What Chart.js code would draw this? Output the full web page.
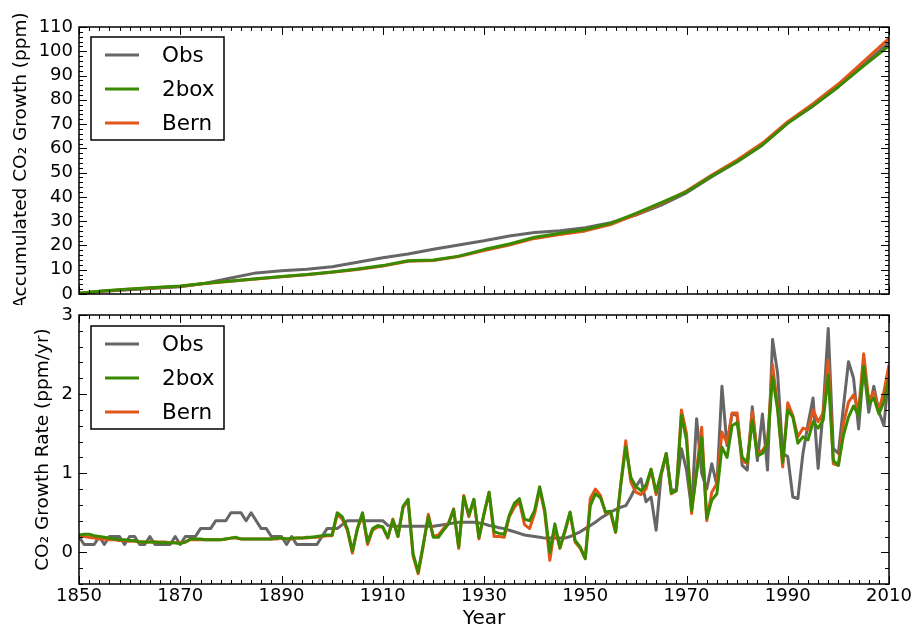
<!DOCTYPE html>
<html>
<head>
<meta charset="utf-8">
<script src="https://cdn.jsdelivr.net/npm/chart.js@4.4.1/dist/chart.umd.min.js"></script>
<style>
  html, body { margin: 0; padding: 0; background: #fff; overflow: hidden; }
  #wrap { position: relative; width: 912px; height: 628px; }
  canvas { position: absolute; left: 0; }
</style>
</head>
<body>
<div id="wrap">
  <canvas id="top" width="912" height="305" style="top:0"></canvas>
  <canvas id="bot" width="912" height="323" style="top:305px"></canvas>
</div>
<script>
// ---------- data ----------
const years = [
  1850,1851,1852,1853,1854,1855,1856,1857,1858,1859,
  1860,1861,1862,1863,1864,1865,1866,1867,1868,1869,
  1870,1871,1872,1873,1874,1875,1876,1877,1878,1879,
  1880,1881,1882,1883,1884,1885,1886,1887,1888,1889,
  1890,1891,1892,1893,1894,1895,1896,1897,1898,1899,
  1900,1901,1902,1903,1904,1905,1906,1907,1908,1909,
  1910,1911,1912,1913,1914,1915,1916,1917,1918,1919,
  1920,1921,1922,1923,1924,1925,1926,1927,1928,1929,
  1930,1931,1932,1933,1934,1935,1936,1937,1938,1939,
  1940,1941,1942,1943,1944,1945,1946,1947,1948,1949,
  1950,1951,1952,1953,1954,1955,1956,1957,1958,1959,
  1960,1961,1962,1963,1964,1965,1966,1967,1968,1969,
  1970,1971,1972,1973,1974,1975,1976,1977,1978,1979,
  1980,1981,1982,1983,1984,1985,1986,1987,1988,1989,
  1990,1991,1992,1993,1994,1995,1996,1997,1998,1999,
  2000,2001,2002,2003,2004,2005,2006,2007,2008,2009,
  2010
];
// growth rate (ppm/yr)
const rateObs = [
  0.2,0.1,0.1,0.1,0.2,0.1,0.2,0.2,0.2,0.1,
  0.2,0.2,0.1,0.1,0.2,0.1,0.1,0.1,0.1,0.2,
  0.1,0.2,0.2,0.2,0.3,0.3,0.3,0.4,0.4,0.4,
  0.5,0.5,0.5,0.4,0.5,0.4,0.3,0.3,0.2,0.2,
  0.2,0.1,0.2,0.1,0.1,0.1,0.1,0.1,0.2,0.3,
  0.3,0.3,0.35,0.4,0.4,0.4,0.4,0.4,0.4,0.4,
  0.4,0.34,0.33,0.33,0.33,0.33,0.33,0.33,0.33,0.33,
  0.33,0.34,0.35,0.36,0.37,0.38,0.38,0.38,0.38,0.37,
  0.36,0.34,0.33,0.31,0.3,0.28,0.26,0.24,0.22,0.21,
  0.2,0.19,0.18,0.18,0.18,0.18,0.18,0.2,0.23,0.26,
  0.3,0.34,0.38,0.43,0.47,0.51,0.54,0.57,0.59,0.7,
  0.83,0.93,0.64,0.7,0.28,0.98,1.23,0.78,0.8,1.31,
  1.04,0.55,1.69,1.0,0.8,1.12,0.85,2.1,1.35,1.75,
  1.73,1.1,1.04,1.84,1.16,1.75,1.04,2.69,2.26,1.25,
  1.21,0.7,0.68,1.25,1.62,1.95,1.06,1.8,2.83,1.31,
  1.25,1.84,2.41,2.2,1.56,2.35,1.77,2.1,1.78,1.6,
  2.3
];
const rate2box = [
  0.22,0.23,0.23,0.21,0.2,0.19,0.18,0.17,0.16,0.16,
  0.15,0.15,0.13,0.13,0.13,0.13,0.12,0.12,0.12,0.12,
  0.11,0.13,0.17,0.17,0.17,0.16,0.16,0.16,0.16,0.17,
  0.18,0.19,0.17,0.17,0.17,0.17,0.17,0.17,0.17,0.18,
  0.18,0.17,0.18,0.18,0.18,0.19,0.19,0.2,0.21,0.22,
  0.22,0.5,0.45,0.3,0.02,0.3,0.5,0.13,0.3,0.34,
  0.32,0.19,0.41,0.2,0.58,0.67,-0.02,-0.25,0.1,0.45,
  0.19,0.19,0.28,0.36,0.54,0.07,0.7,0.47,0.67,0.19,
  0.49,0.76,0.26,0.24,0.23,0.47,0.62,0.68,0.42,0.4,
  0.53,0.83,0.53,0.0,0.36,0.06,0.28,0.51,0.15,0.07,
  -0.08,0.59,0.74,0.69,0.51,0.52,0.26,0.85,1.33,0.95,
  0.83,0.78,0.85,1.05,0.76,1.0,1.25,0.75,0.78,1.73,
  1.42,0.53,1.0,1.45,0.43,0.66,0.74,1.33,1.2,1.6,
  1.64,1.2,1.14,1.67,1.22,1.25,1.37,2.22,1.8,1.14,
  1.8,1.71,1.38,1.46,1.42,1.65,1.57,1.67,2.24,1.16,
  1.1,1.48,1.71,1.85,1.73,2.35,1.88,1.95,1.75,1.9,
  2.2
];
const rateBern = [
  0.2,0.2,0.19,0.18,0.17,0.17,0.16,0.16,0.15,0.15,
  0.14,0.14,0.13,0.13,0.13,0.13,0.13,0.13,0.12,0.12,
  0.12,0.13,0.16,0.16,0.16,0.16,0.16,0.16,0.16,0.17,
  0.18,0.18,0.17,0.17,0.17,0.17,0.17,0.17,0.17,0.17,
  0.18,0.17,0.17,0.18,0.18,0.18,0.19,0.19,0.2,0.21,
  0.21,0.48,0.42,0.28,-0.01,0.3,0.48,0.1,0.28,0.32,
  0.32,0.18,0.42,0.2,0.56,0.66,-0.05,-0.27,0.08,0.48,
  0.2,0.22,0.3,0.37,0.55,0.05,0.72,0.45,0.67,0.17,
  0.48,0.76,0.2,0.2,0.19,0.45,0.57,0.64,0.35,0.3,
  0.49,0.8,0.5,-0.1,0.32,0.05,0.26,0.5,0.13,0.05,
  -0.08,0.68,0.8,0.72,0.5,0.5,0.25,0.85,1.41,0.89,
  0.76,0.73,0.8,1.05,0.73,1.0,1.25,0.74,0.78,1.8,
  1.5,0.49,1.05,1.58,0.4,0.76,0.87,1.52,1.38,1.76,
  1.76,1.16,1.12,1.78,1.25,1.29,1.38,2.37,1.84,1.08,
  1.89,1.73,1.46,1.57,1.55,1.8,1.65,1.76,2.43,1.12,
  1.1,1.63,1.9,1.99,1.8,2.51,1.92,2.03,1.8,2.03,
  2.37
];
// accumulated growth (ppm), read every 5 years
const accYears = [1850,1855,1860,1865,1870,1875,1880,1885,1890,1895,1900,1905,1910,1915,1920,1925,1930,1935,1940,1945,1950,1955,1960,1965,1970,1975,1980,1985,1990,1995,2000,2005,2010];
const accObs  = [0.3,1.1,1.8,2.4,3.0,4.4,6.6,8.7,9.6,10.2,11.2,13.1,14.9,16.5,18.4,20.2,21.9,23.9,25.3,26.1,27.3,29.4,32.5,36.6,41.7,48.3,54.5,61.4,70.6,77.5,85.4,94.4,103.6];
const acc2box = [0.3,1.3,2.1,2.7,3.3,4.4,5.4,6.3,7.2,8.0,9.1,10.3,11.7,13.7,14.0,15.6,18.3,20.6,23.4,25.0,26.6,29.1,33.2,37.6,42.1,48.6,54.5,61.4,70.3,77.5,85.4,94.0,102.2];
const accBern = [0.3,1.2,2.0,2.6,3.2,4.3,5.3,6.2,7.1,7.9,9.0,10.1,11.5,13.5,13.8,15.4,17.9,20.2,22.9,24.5,26.0,28.6,32.7,37.3,42.4,49.0,55.2,62.2,71.0,78.4,86.5,95.8,105.3];

const seriesNames = ['Obs', '2box', 'Bern'];
const xTickYears = [1850,1870,1890,1910,1930,1950,1970,1990,2010];
const accTicks = [0,10,20,30,40,50,60,70,80,90,100,110];
const rateTicks = [0,1,2,3];

// ---------- styles ----------
const FONT = '"DejaVu Sans", "Liberation Sans", sans-serif';
const COLORS = ['#666666', '#3a8a00', '#e2561a'];
const ORDER = [3, 1, 2];
Chart.defaults.font.family = FONT;
Chart.defaults.color = '#000';

const pts = (xs, ys) => xs.map((x, i) => ({ x: x, y: ys[i] }));

// inward frame ticks (matplotlib classic look)
const frameTicks = {
  id: 'frameTicks',
  afterDatasetsDraw(chart, args, o) {
    const { ctx, chartArea: a, scales: { x, y } } = chart;
    ctx.save();
    ctx.strokeStyle = '#000';
    ctx.lineWidth = 1;
    ctx.beginPath();
    const nx = Math.round((x.max - x.min) / o.xMinor);
    for (let i = 0; i <= nx; i++) {
      const v = x.min + i * o.xMinor;
      const px = Math.round(x.getPixelForValue(v)) + 0.5;
      const r = (v - o.xBase) / o.xMajor;
      const len = Math.abs(r - Math.round(r)) < 1e-6 ? 8 : 4;
      ctx.moveTo(px, a.bottom); ctx.lineTo(px, a.bottom - len);
      ctx.moveTo(px, a.top); ctx.lineTo(px, a.top + len);
    }
    const ny = Math.round((y.max - y.min) / o.yMinor);
    for (let i = 0; i <= ny; i++) {
      const v = y.min + i * o.yMinor;
      const py = Math.round(y.getPixelForValue(v)) + 0.5;
      const r = v / o.yMajor;
      const len = Math.abs(r - Math.round(r)) < 1e-6 ? 8 : 4;
      ctx.moveTo(a.left, py); ctx.lineTo(a.left + len, py);
      ctx.moveTo(a.right, py); ctx.lineTo(a.right - len, py);
    }
    ctx.stroke();
    ctx.lineWidth = 1.5;
    ctx.strokeRect(a.left, a.top, a.right - a.left, a.bottom - a.top);
    ctx.restore();
  }
};

// matplotlib-style legend box inside the axes
const boxLegend = {
  id: 'boxLegend',
  afterDraw(chart, args, o) {
    const { ctx, chartArea: a } = chart;
    const x0 = a.left + o.dx, y0 = a.top + o.dy;
    ctx.save();
    ctx.fillStyle = '#fff';
    ctx.fillRect(x0, y0, o.w, o.h);
    ctx.lineWidth = 1.5;
    ctx.strokeStyle = '#000';
    ctx.strokeRect(x0, y0, o.w, o.h);
    ctx.font = o.size + 'px ' + FONT;
    ctx.textBaseline = 'middle';
    ctx.textAlign = 'left';
    chart.data.datasets.forEach((ds, i) => {
      const yy = y0 + o.first + i * o.step;
      ctx.strokeStyle = ds.borderColor;
      ctx.lineWidth = 3;
      ctx.beginPath();
      ctx.moveTo(x0 + 14, yy);
      ctx.lineTo(x0 + 48, yy);
      ctx.stroke();
      ctx.fillStyle = '#000';
      ctx.fillText(ds.label, x0 + 71, yy + 1);
    });
    ctx.restore();
  }
};

function makeDatasets(xs, list) {
  return list.map((ys, i) => ({
    label: seriesNames[i],
    data: pts(xs, ys),
    borderColor: COLORS[i],
    backgroundColor: COLORS[i],
    borderWidth: 3,
    pointRadius: 0,
    tension: 0,
    fill: false,
    borderJoinStyle: 'round',
    order: ORDER[i]
  }));
}

const common = {
  responsive: false,
  animation: false,
  devicePixelRatio: 1,
  events: []
};

function fixX(h) {
  return s => { s.height = h; s.paddingLeft = 0; s.paddingRight = 0; s.paddingTop = 0; s.paddingBottom = 0; };
}
function fixY(w) {
  return s => { s.width = w; s.paddingTop = 0; s.paddingBottom = 0; s.paddingLeft = 0; s.paddingRight = 0; };
}

// ---------- top chart ----------
new Chart(document.getElementById('top'), {
  type: 'line',
  data: { datasets: makeDatasets(accYears, [accObs, acc2box, accBern]) },
  plugins: [frameTicks, boxLegend],
  options: Object.assign({}, common, {
    layout: { padding: { top: 27, right: 23, left: 0, bottom: 0 } },
    plugins: {
      legend: { display: false },
      tooltip: { enabled: false },
      frameTicks: { xMinor: 2, xMajor: 20, xBase: 1850, yMinor: 2, yMajor: 10 },
      boxLegend: { dx: 12, dy: 10, w: 133, h: 103, first: 18, step: 34, size: 21.5 }
    },
    scales: {
      x: {
        type: 'linear', min: 1850, max: 2010,
        grid: { display: false, drawTicks: false },
        border: { display: false },
        ticks: { display: false },
        afterFit: fixX(11)
      },
      y: {
        type: 'linear', min: 0, max: 110,
        afterBuildTicks: s => { s.ticks = accTicks.map(v => ({ value: v })); },
        grid: { display: false, drawTicks: false },
        border: { display: false },
        ticks: { font: { size: 18 }, color: '#000', padding: 6, autoSkip: false, callback: v => String(v) },
        title: {
          display: true, text: 'Accumulated CO\u2082 Growth (ppm)',
          font: { size: 18.5 }, color: '#000', padding: { top: 10, bottom: 0 }
        },
        afterFit: fixY(79)
      }
    }
  })
});

// ---------- bottom chart ----------
new Chart(document.getElementById('bot'), {
  type: 'line',
  data: { datasets: makeDatasets(years, [rateObs, rate2box, rateBern]) },
  plugins: [frameTicks, boxLegend],
  options: Object.assign({}, common, {
    layout: { padding: { top: 10, right: 23, left: 0, bottom: 0 } },
    plugins: {
      legend: { display: false },
      tooltip: { enabled: false },
      frameTicks: { xMinor: 2, xMajor: 20, xBase: 1850, yMinor: 0.2, yMajor: 1 },
      boxLegend: { dx: 12, dy: 11, w: 133, h: 103, first: 18, step: 34, size: 21.5 }
    },
    scales: {
      x: {
        type: 'linear', min: 1850, max: 2010,
        afterBuildTicks: s => { s.ticks = xTickYears.map(v => ({ value: v })); },
        grid: { display: false, drawTicks: false },
        border: { display: false },
        ticks: { font: { size: 18 }, color: '#000', padding: 2, autoSkip: false, maxRotation: 0, callback: v => String(v) },
        title: {
          display: true, text: 'Year',
          font: { size: 20 }, color: '#000', padding: { top: 0, bottom: -3 }
        },
        afterFit: fixX(44)
      },
      y: {
        type: 'linear', min: -0.4, max: 3,
        afterBuildTicks: s => { s.ticks = rateTicks.map(v => ({ value: v })); },
        grid: { display: false, drawTicks: false },
        border: { display: false },
        ticks: { font: { size: 18 }, color: '#000', padding: 6, autoSkip: false, callback: v => String(v) },
        title: {
          display: true, text: 'CO\u2082 Growth Rate (ppm/yr)',
          font: { size: 18.5 }, color: '#000', padding: { top: 32, bottom: 0 }
        },
        afterFit: fixY(79)
      }
    }
  })
});
</script>
</body>
</html>
